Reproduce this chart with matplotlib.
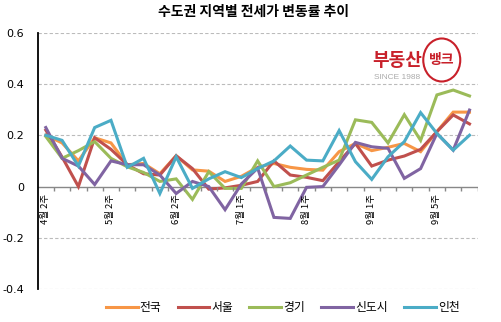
import matplotlib
matplotlib.use('Agg')
import matplotlib.pyplot as plt
from matplotlib.patches import Ellipse

plt.rcParams['font.family'] = ['Noto Sans CJK KR', 'DejaVu Sans']

# weekly rate of change (%), 27 weeks
weeks = list(range(27))
tick_pos = [0, 4, 8, 12, 16, 20, 24]
tick_labels = ['4월 2주', '5월 2주', '6월 2주', '7월 1주', '8월 1주', '9월 1주', '9월 5주']

nationwide = [0.20, 0.17, 0.10, 0.19, 0.17, 0.085, 0.09, 0.05, 0.12, 0.065, 0.06, 0.02, 0.04,
              0.075, 0.09, 0.075, 0.067, 0.064, 0.136, 0.168, 0.14, 0.153, 0.168, 0.136, 0.214, 0.29, 0.29]
seoul = [0.22, 0.115, 0.0, 0.19, 0.145, 0.085, 0.05, 0.045, 0.12, 0.07, -0.01, -0.005, 0.005,
         0.02, 0.10, 0.045, 0.036, 0.023, 0.097, 0.168, 0.08, 0.103, 0.119, 0.145, 0.214, 0.279, 0.244]
gyeonggi = [0.195, 0.11, 0.14, 0.175, 0.11, 0.077, 0.055, 0.02, 0.03, -0.05, 0.058, -0.007, -0.007,
            0.10, 0.0, 0.015, 0.045, 0.075, 0.103, 0.26, 0.25, 0.17, 0.28, 0.18, 0.357, 0.376, 0.353]
newtown = [0.23, 0.11, 0.08, 0.008, 0.10, 0.085, 0.085, 0.045, -0.027, 0.02, 0.0, -0.09, 0.01,
           0.072, -0.12, -0.124, -0.003, 0.0, 0.084, 0.172, 0.155, 0.149, 0.032, 0.07, 0.207, 0.142, 0.298]
incheon = [0.20, 0.18, 0.08, 0.23, 0.258, 0.075, 0.11, -0.027, 0.116, -0.007, 0.03, 0.058, 0.035,
           0.07, 0.10, 0.158, 0.103, 0.10, 0.218, 0.097, 0.028, 0.116, 0.175, 0.288, 0.207, 0.142, 0.20]

names = ['전국', '서울', '경기', '신도시', '인천']
colors = ['#F79646', '#C0504D', '#9BBB59', '#8064A2', '#4BACC6']

fig = plt.figure(figsize=(5.02, 3.22), dpi=100)
ax = fig.add_axes([0.075, 0.1016, 0.8765, 0.7974])

for vals, name, c in zip([nationwide, seoul, gyeonggi, newtown, incheon], names, colors):
    ax.plot(weeks, vals, color=c, lw=2.2, label=name, solid_joinstyle='miter')

ax.set_xlim(-0.5, 26.5)
ax.set_ylim(-0.4, 0.6)

# dashed grid + zero axis line
for y in [0.6, 0.4, 0.2, -0.2, -0.4]:
    ax.axhline(y, color='#BBBBBB', lw=0.8, ls=(0, (3, 2)), zorder=0)
ax.axhline(0, color='#888888', lw=1.0, zorder=1)
ax.vlines([k + 0.5 for k in range(27)], -0.016, 0, color='#888888', lw=1.0)

for s in ['top', 'right', 'bottom']:
    ax.spines[s].set_visible(False)
ax.spines['left'].set_linewidth(1.3)
ax.spines['left'].set_color('black')

ax.set_yticks([0.6, 0.4, 0.2, 0, -0.2, -0.4])
ax.set_yticklabels(['0.6', '0.4', '0.2', '0', '-0.2', '-0.4'], family='DejaVu Sans')
ax.tick_params(axis='y', length=0, pad=10, labelsize=8)
ax.set_xticks([])

for p, lab in zip(tick_pos, tick_labels):
    ax.text(p, -0.03, lab, rotation=90, ha='center', va='top', fontsize=6.8)

fig.text(0.504, 0.964, '수도권 지역별 전세가 변동률 추이', ha='center', va='center',
         fontsize=10, weight='bold')

# logo
fig.text(0.791, 0.811, '부동산', ha='center', va='center', fontsize=13, weight='bold', color='#C8202A')
fig.text(0.791, 0.758, 'SINCE 1988', ha='center', va='center', fontsize=6,
         family='Liberation Sans', color='#AAAAAA')
fig.patches.append(Ellipse((0.880, 0.8137), 0.0737, 0.1335, transform=fig.transFigure,
                           fill=False, edgecolor='#C8202A', lw=1.5))
fig.text(0.880, 0.813, '뱅크', ha='center', va='center', fontsize=10, weight='bold', color='#C8202A')

fig.legend(ncol=5, loc='center', bbox_to_anchor=(0.563, 0.0435), frameon=False,
           handlelength=2.7, handletextpad=0.15, columnspacing=1.4, fontsize=8.5)

fig.savefig('out.png', dpi=100)
